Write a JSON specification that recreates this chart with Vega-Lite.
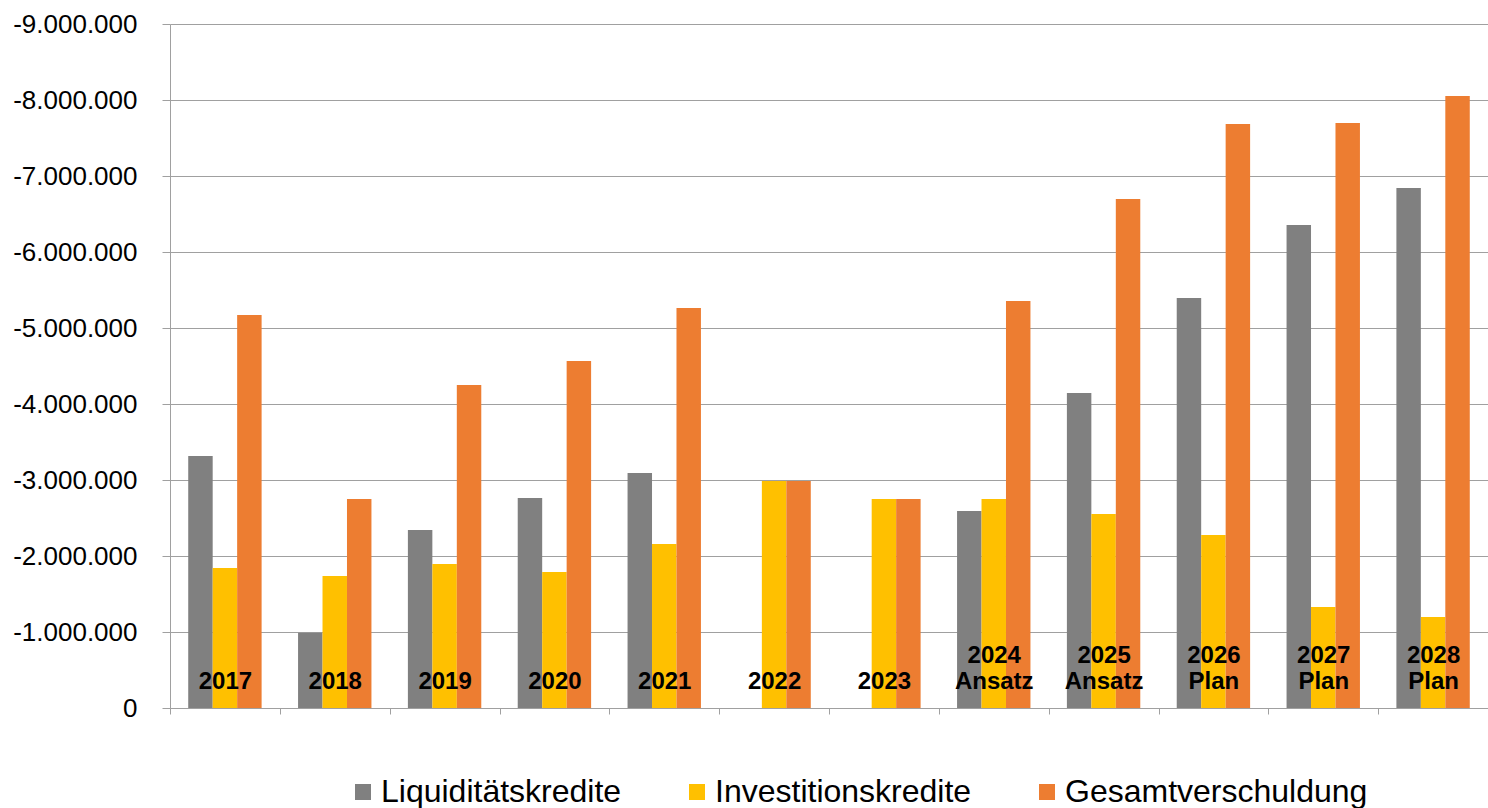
{
  "$schema": "https://vega.github.io/schema/vega-lite/v6.json",
  "width": 1318,
  "height": 684,
  "autosize": {"type": "none"},
  "padding": {"left": 170, "top": 24, "right": 0, "bottom": 100},
  "config": {
    "view": {"stroke": null},
    "font": "Liberation Sans"
  },
  "data": {
    "values": [
      {"jahr": "2017", "art": "Liquiditätskredite", "wert": -3315000},
      {"jahr": "2017", "art": "Investitionskredite", "wert": -1842000},
      {"jahr": "2017", "art": "Gesamtverschuldung", "wert": -5170000},
      {"jahr": "2018", "art": "Liquiditätskredite", "wert": -990000},
      {"jahr": "2018", "art": "Investitionskredite", "wert": -1737000},
      {"jahr": "2018", "art": "Gesamtverschuldung", "wert": -2750000},
      {"jahr": "2019", "art": "Liquiditätskredite", "wert": -2342000},
      {"jahr": "2019", "art": "Investitionskredite", "wert": -1895000},
      {"jahr": "2019", "art": "Gesamtverschuldung", "wert": -4250000},
      {"jahr": "2020", "art": "Liquiditätskredite", "wert": -2763000},
      {"jahr": "2020", "art": "Investitionskredite", "wert": -1789000},
      {"jahr": "2020", "art": "Gesamtverschuldung", "wert": -4566000},
      {"jahr": "2021", "art": "Liquiditätskredite", "wert": -3092000},
      {"jahr": "2021", "art": "Investitionskredite", "wert": -2158000},
      {"jahr": "2021", "art": "Gesamtverschuldung", "wert": -5263000},
      {"jahr": "2022", "art": "Liquiditätskredite", "wert": 0},
      {"jahr": "2022", "art": "Investitionskredite", "wert": -2987000},
      {"jahr": "2022", "art": "Gesamtverschuldung", "wert": -2987000},
      {"jahr": "2023", "art": "Liquiditätskredite", "wert": 0},
      {"jahr": "2023", "art": "Investitionskredite", "wert": -2750000},
      {"jahr": "2023", "art": "Gesamtverschuldung", "wert": -2750000},
      {"jahr": "2024 Ansatz", "art": "Liquiditätskredite", "wert": -2592000},
      {"jahr": "2024 Ansatz", "art": "Investitionskredite", "wert": -2750000},
      {"jahr": "2024 Ansatz", "art": "Gesamtverschuldung", "wert": -5355000},
      {"jahr": "2025 Ansatz", "art": "Liquiditätskredite", "wert": -4145000},
      {"jahr": "2025 Ansatz", "art": "Investitionskredite", "wert": -2553000},
      {"jahr": "2025 Ansatz", "art": "Gesamtverschuldung", "wert": -6697000},
      {"jahr": "2026 Plan", "art": "Liquiditätskredite", "wert": -5395000},
      {"jahr": "2026 Plan", "art": "Investitionskredite", "wert": -2276000},
      {"jahr": "2026 Plan", "art": "Gesamtverschuldung", "wert": -7684000},
      {"jahr": "2027 Plan", "art": "Liquiditätskredite", "wert": -6355000},
      {"jahr": "2027 Plan", "art": "Investitionskredite", "wert": -1329000},
      {"jahr": "2027 Plan", "art": "Gesamtverschuldung", "wert": -7697000},
      {"jahr": "2028 Plan", "art": "Liquiditätskredite", "wert": -6842000},
      {"jahr": "2028 Plan", "art": "Investitionskredite", "wert": -1197000},
      {"jahr": "2028 Plan", "art": "Gesamtverschuldung", "wert": -8053000}
    ]
  },
  "mark": {"type": "bar"},
  "encoding": {
    "x": {
      "field": "jahr",
      "type": "nominal",
      "sort": null,
      "scale": {"paddingInner": 0, "paddingOuter": 0},
      "axis": {
        "title": null,
        "zindex": 1,
        "domainColor": "#a0a0a0",
        "tickColor": "#a0a0a0",
        "tickSize": 6,
        "tickBand": "extent",
        "labelAngle": 0,
        "labelFont": "Liberation Sans",
        "labelFontSize": 24,
        "labelFontWeight": "bold",
        "labelColor": "#000000",
        "labelBaseline": "bottom",
        "labelPadding": -47,
        "labelLineHeight": 26.5,
        "labelExpr": "length(split(datum.label, ' ')) > 1 ? split(datum.label, ' ') : [' ', datum.label]",
        "labelBound": false,
        "labelOverlap": false
      }
    },
    "xOffset": {
      "field": "art",
      "type": "nominal",
      "sort": ["Liquiditätskredite", "Investitionskredite", "Gesamtverschuldung"],
      "scale": {"paddingInner": 0, "paddingOuter": 0.745}
    },
    "y": {
      "field": "wert",
      "type": "quantitative",
      "scale": {"domain": [-9000000, 0], "reverse": true, "nice": false},
      "axis": {
        "title": null,
        "values": [0, -1000000, -2000000, -3000000, -4000000, -5000000, -6000000, -7000000, -8000000, -9000000],
        "labelExpr": "replace(replace(format(datum.value, ',d'), regexp(',', 'g'), '.'), '\u2212', '-')",
        "grid": true,
        "gridColor": "#a0a0a0",
        "domainColor": "#a0a0a0",
        "tickColor": "#a0a0a0",
        "tickSize": 8,
        "labelPadding": 25,
        "labelFont": "Liberation Sans",
        "labelFontSize": 26,
        "labelColor": "#000000"
      }
    },
    "color": {
      "field": "art",
      "type": "nominal",
      "scale": {
        "domain": ["Liquiditätskredite", "Investitionskredite", "Gesamtverschuldung"],
        "range": ["#808080", "#FFC000", "#ED7D31"]
      },
      "legend": {
        "orient": "none",
        "legendX": 177,
        "legendY": 752,
        "direction": "horizontal",
        "title": null,
        "symbolType": "square",
        "symbolSize": 256,
        "symbolStrokeWidth": 0,
        "symbolOpacity": 1,
        "labelFont": "Liberation Sans",
        "labelFontSize": 32,
        "labelColor": "#000000",
        "labelOffset": 2,
        "labelLimit": 0,
        "columnPadding": 59
      }
    }
  }
}
